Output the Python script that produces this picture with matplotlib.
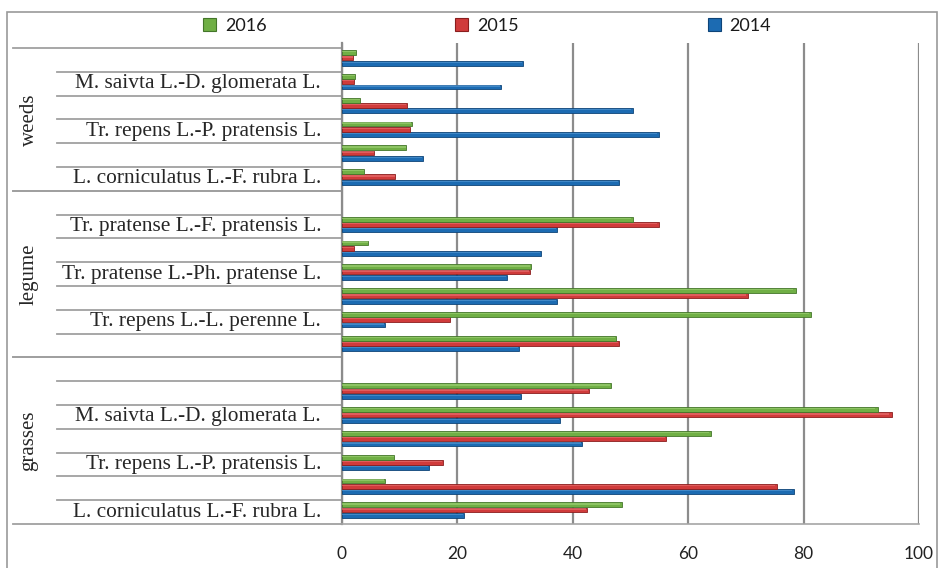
import numpy as np
import matplotlib
matplotlib.use("Agg")
import matplotlib.pyplot as plt
from matplotlib.patches import Patch, Rectangle
import matplotlib.transforms as mtransforms

# ---------------- data (each group listed bottom -> top) ----------------
years = ["2014", "2015", "2016"]
groups = ["grasses", "legume", "weeds"]

grasses_labels = ["L. corniculatus L.-F. rubra L.", "", "Tr. repens L.-P. pratensis L.", "",
                  "M. saivta L.-D. glomerata L.", "", ""]
legume_labels = ["", "Tr. repens L.-L. perenne L.", "", "Tr. pratense L.-Ph. pratense L.", "",
                 "Tr. pratense L.-F. pratensis L.", ""]
weeds_labels = ["L. corniculatus L.-F. rubra L.", "", "Tr. repens L.-P. pratensis L.", "",
                "M. saivta L.-D. glomerata L.", ""]

grasses_2014 = [21.1, 78.3, 15.0, 41.6, 37.8, 31.0, np.nan]
grasses_2015 = [42.5, 75.4, 17.5, 56.2, 95.3, 42.8, np.nan]
grasses_2016 = [48.5, 7.4, 9.0, 64.0, 92.9, 46.6, np.nan]

legume_2014 = [30.7, 7.4, 37.3, 28.6, 34.5, 37.3, np.nan]
legume_2015 = [48.0, 18.8, 70.4, 32.5, 2.1, 54.9, np.nan]
legume_2016 = [47.5, 81.3, 78.6, 32.8, 4.5, 50.4, np.nan]

weeds_2014 = [48.0, 14.0, 54.9, 50.4, 27.6, 31.4]
weeds_2015 = [9.2, 5.6, 11.8, 11.2, 2.1, 1.9]
weeds_2016 = [3.8, 11.1, 12.1, 3.1, 2.2, 2.4]

x_ticks = [0, 20, 40, 60, 80, 100]

# ---------------- assemble ----------------
group_labels = [grasses_labels, legume_labels, weeds_labels]
series = {
    "2014": grasses_2014 + legume_2014 + weeds_2014,
    "2015": grasses_2015 + legume_2015 + weeds_2015,
    "2016": grasses_2016 + legume_2016 + weeds_2016,
}
all_labels = grasses_labels + legume_labels + weeds_labels
ncat = len(all_labels)
ypos = np.arange(ncat)

colors = {"2014": "#1C6BB2", "2015": "#D03B3B", "2016": "#70AF45"}
edges = {"2014": "#0E4478", "2015": "#8A1E1E", "2016": "#44762A"}
lights = {"2014": "#5FA0DA", "2015": "#EE7A7A", "2016": "#A6D67F"}

SERIF = "Liberation Serif"
SANS = "Lato"

W, H = 945, 568
fig = plt.figure(figsize=(W / 100, H / 100), dpi=100)


def fx(px):
    return px / W


def fy(py):
    return 1 - py / H


ax_l, ax_r, ax_t, ax_b = 342, 919, 43, 524
cat_top = 48
ax = fig.add_axes([fx(ax_l), fy(ax_b), fx(ax_r) - fx(ax_l), fy(ax_t) - fy(ax_b)])
cell_px = (ax_b - cat_top) / ncat
ax.set_ylim(-0.5, ncat - 0.5 + (cat_top - ax_t) / cell_px)
ax.set_xlim(0, 100)

bar_h = 0.2
step = 0.222
shift = 0.085
offsets = {"2014": -step, "2015": 0.0, "2016": step}
for yr in years:
    vals = np.array(series[yr], dtype=float)
    m = ~np.isnan(vals)
    yy = ypos[m] + offsets[yr] + shift
    ax.barh(yy, vals[m], height=bar_h, color=colors[yr], edgecolor=edges[yr],
            linewidth=0.6, zorder=3)
    ax.barh(yy + bar_h * 0.2, vals[m] * 0.995, height=bar_h * 0.28, color=lights[yr],
            linewidth=0, alpha=0.55, zorder=4)

ax.set_xticks(x_ticks)
ax.set_xticklabels([str(t) for t in x_ticks], fontfamily=SANS, fontsize=12.5, color="#222222")
ax.set_yticks([])
ax.tick_params(axis="x", length=0, pad=16)
ax.grid(axis="x", color="#8C8C8C", linewidth=1.6, zorder=0)
ax.set_axisbelow(True)
for s in ["top", "right"]:
    ax.spines[s].set_visible(False)
ax.spines["left"].set_color("#8C8C8C")
ax.spines["left"].set_linewidth(1.6)
ax.spines["bottom"].set_color("#A6A6A6")
ax.spines["bottom"].set_linewidth(1.2)

# ---------------- multi-level category axis ----------------
trans = mtransforms.blended_transform_factory(fig.transFigure, ax.transData)
line_col = "#A0A0A0"
start = 0
for g, labs in zip(groups, group_labels):
    n = len(labs)
    for k in range(n + 1):
        yb = start - 0.5 + k
        x0 = 13 if k in (0, n) else 57
        ax.plot([fx(x0), fx(ax_l)], [yb, yb], transform=trans, color=line_col,
                linewidth=1.3, clip_on=False, zorder=1)
    for k, lab in enumerate(labs):
        if lab:
            ax.text(fx(321), start + k, lab, transform=trans, ha="right", va="center",
                    fontfamily=SERIF, fontsize=15.4, color="#262626")
    ax.text(fx(29), start + (n - 1) / 2, g, transform=trans, ha="center", va="center",
            rotation=90, fontfamily=SERIF, fontsize=15, color="#262626")
    start += n

# ---------------- chart border ----------------
fig.add_artist(Rectangle((fx(7), fy(580)), fx(937) - fx(7), fy(12) - fy(580),
                         transform=fig.transFigure, fill=False, edgecolor="#9A9A9A",
                         linewidth=1.2))

# ---------------- legend ----------------
leg_order = ["2016", "2015", "2014"]
handles = [Patch(facecolor=colors[y], edgecolor=edges[y], linewidth=0.8) for y in leg_order]
fig.legend(handles, leg_order, loc="center", bbox_to_anchor=(fx(487), fy(26)), ncol=3,
           frameon=False, handlelength=0.72, handleheight=0.72, handletextpad=0.5,
           columnspacing=10.45, prop={"family": SANS, "size": 13}, labelcolor="#1A1A1A")

fig.savefig("out.png", dpi=100)
